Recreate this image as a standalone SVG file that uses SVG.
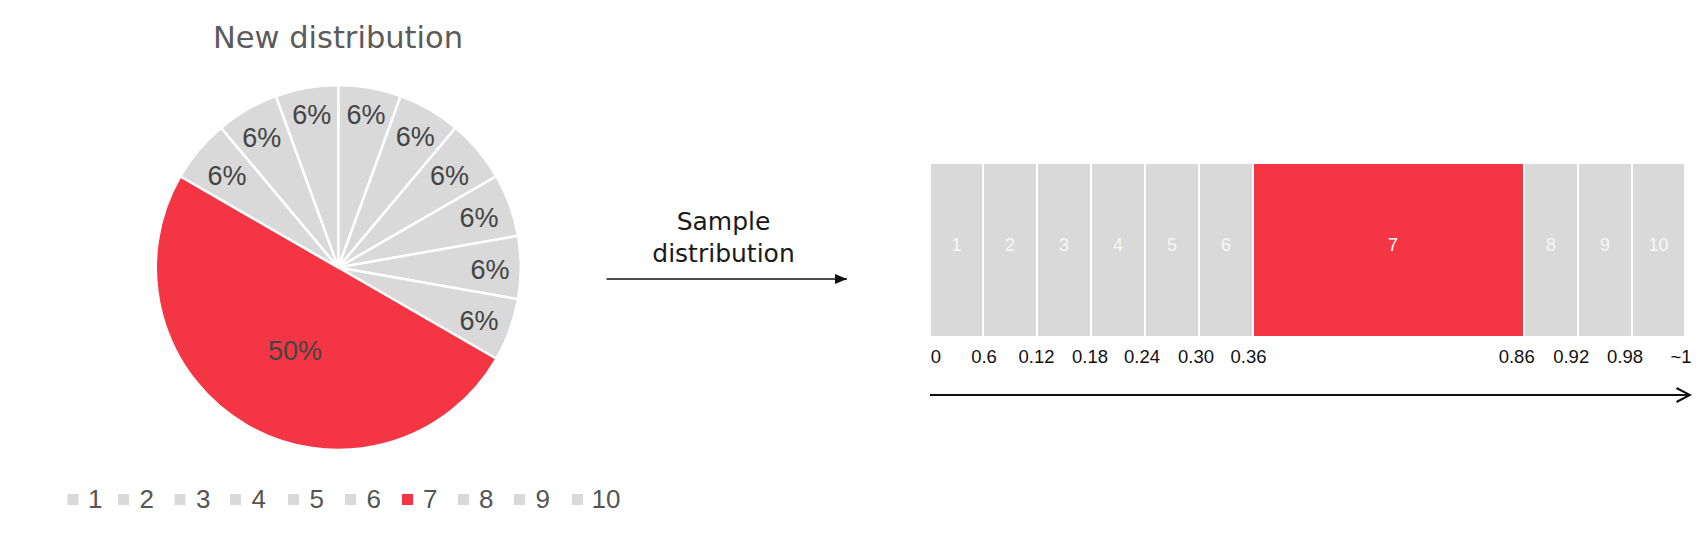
<svg xmlns="http://www.w3.org/2000/svg" width="1708" height="536" viewBox="0 0 1708 536">
<style>
.bg{fill:#ffffff}
.grey{fill:#d9d9d9}
.red{fill:#f43543}
.slice{stroke:#ffffff;stroke-width:2.5;stroke-linejoin:round}
.title{font-family:"DejaVu Sans","Liberation Sans",sans-serif;font-size:30.5px;fill:#5b5b5b;text-anchor:middle}
.word{font-family:"DejaVu Sans","Liberation Sans",sans-serif;font-size:25px;fill:#1a1a1a;text-anchor:middle}
.pct{font-family:"Liberation Sans",Arial,sans-serif;font-size:27px;fill:#444444;text-anchor:middle}
.leg{font-family:"Liberation Sans",Arial,sans-serif;font-size:26px;fill:#555555}
.bl{font-family:"Liberation Sans",Arial,sans-serif;font-size:18px;fill:#f7f7f7;text-anchor:middle}
.bl7{font-family:"Liberation Sans",Arial,sans-serif;font-size:18px;fill:#ffffff;text-anchor:middle}
.sc{font-family:"Liberation Sans",Arial,sans-serif;font-size:18.5px;fill:#111111;text-anchor:middle}
.line{stroke:#111111;fill:none}
</style>
<defs>
<marker id="tri" viewBox="0 0 12 10" refX="12" refY="5" markerWidth="12" markerHeight="10" markerUnits="userSpaceOnUse" orient="auto">
<path d="M0,0 L12,5 L0,10 Z" fill="#111111"/>
</marker>
<marker id="chev" viewBox="0 0 16 16" refX="14.5" refY="8" markerWidth="16" markerHeight="16" markerUnits="userSpaceOnUse" orient="auto">
<path d="M1,1 L14.5,8 L1,15" fill="none" stroke="#111111" stroke-width="2"/>
</marker>
</defs>
<rect class="bg" x="0" y="0" width="1708" height="536"/>

<text class="title" x="338" y="48">New distribution</text>

<g id="pie">
<path id="slice1" class="grey slice" d="M338.3,267.5 L338.3,85 A182.5,182.5 0 0 1 400.72,96 Z"/>
<path id="slice2" class="grey slice" d="M338.3,267.5 L400.72,96 A182.5,182.5 0 0 1 455.61,127.7 Z"/>
<path id="slice3" class="grey slice" d="M338.3,267.5 L455.61,127.7 A182.5,182.5 0 0 1 496.35,176.25 Z"/>
<path id="slice4" class="grey slice" d="M338.3,267.5 L496.35,176.25 A182.5,182.5 0 0 1 518.03,235.81 Z"/>
<path id="slice5" class="grey slice" d="M338.3,267.5 L518.03,235.81 A182.5,182.5 0 0 1 518.03,299.19 Z"/>
<path id="slice6" class="grey slice" d="M338.3,267.5 L518.03,299.19 A182.5,182.5 0 0 1 496.35,358.75 Z"/>
<path id="slice7" class="red slice" d="M338.3,267.5 L496.35,358.75 A182.5,182.5 0 0 1 180.25,176.25 Z"/>
<path id="slice8" class="grey slice" d="M338.3,267.5 L180.25,176.25 A182.5,182.5 0 0 1 220.99,127.7 Z"/>
<path id="slice9" class="grey slice" d="M338.3,267.5 L220.99,127.7 A182.5,182.5 0 0 1 275.88,96 Z"/>
<path id="slice10" class="grey slice" d="M338.3,267.5 L275.88,96 A182.5,182.5 0 0 1 338.3,85 Z"/>
<text class="pct" x="366" y="123.5">6%</text>
<text class="pct" x="415.3" y="146">6%</text>
<text class="pct" x="449.5" y="185">6%</text>
<text class="pct" x="479" y="226.7">6%</text>
<text class="pct" x="490" y="279">6%</text>
<text class="pct" x="479" y="330">6%</text>
<text class="pct" x="295" y="359.5">50%</text>
<text class="pct" x="227" y="185">6%</text>
<text class="pct" x="261.7" y="146.5">6%</text>
<text class="pct" x="311.7" y="123.5">6%</text>
</g>

<g id="legend">
<rect class="grey" x="67.5" y="494" width="11" height="11"/><text class="leg" x="88" y="507.5">1</text>
<rect class="grey" x="118" y="494" width="11" height="11"/><text class="leg" x="139.5" y="507.5">2</text>
<rect class="grey" x="174.5" y="494" width="11" height="11"/><text class="leg" x="196" y="507.5">3</text>
<rect class="grey" x="230" y="494" width="11" height="11"/><text class="leg" x="251.5" y="507.5">4</text>
<rect class="grey" x="288" y="494" width="11" height="11"/><text class="leg" x="309.5" y="507.5">5</text>
<rect class="grey" x="345" y="494" width="11" height="11"/><text class="leg" x="366.5" y="507.5">6</text>
<rect class="red" x="402" y="494" width="11" height="11"/><text class="leg" x="423" y="507.5">7</text>
<rect class="grey" x="458" y="494" width="11" height="11"/><text class="leg" x="479" y="507.5">8</text>
<rect class="grey" x="514" y="494" width="11" height="11"/><text class="leg" x="535.5" y="507.5">9</text>
<rect class="grey" x="572" y="494" width="11" height="11"/><text class="leg" x="591.5" y="507.5">10</text>
</g>

<g id="sample-label">
<text class="word" x="723.5" y="230">Sample</text>
<text class="word" x="723.5" y="261.5">distribution</text>
</g>

<g id="bar">
<g id="box1"><rect class="grey" x="931" y="164" width="51" height="172"/><text class="bl" x="956.5" y="251">1</text></g>
<g id="box2"><rect class="grey" x="984" y="164" width="52" height="172"/><text class="bl" x="1010" y="251">2</text></g>
<g id="box3"><rect class="grey" x="1038" y="164" width="52" height="172"/><text class="bl" x="1064" y="251">3</text></g>
<g id="box4"><rect class="grey" x="1092" y="164" width="52" height="172"/><text class="bl" x="1118" y="251">4</text></g>
<g id="box5"><rect class="grey" x="1146" y="164" width="52" height="172"/><text class="bl" x="1172" y="251">5</text></g>
<g id="box6"><rect class="grey" x="1200" y="164" width="52" height="172"/><text class="bl" x="1226" y="251">6</text></g>
<g id="box7"><rect class="red" x="1254" y="164" width="269" height="172"/><text class="bl7" x="1393" y="251">7</text></g>
<g id="box8"><rect class="grey" x="1525" y="164" width="52" height="172"/><text class="bl" x="1551" y="251">8</text></g>
<g id="box9"><rect class="grey" x="1579" y="164" width="52" height="172"/><text class="bl" x="1605" y="251">9</text></g>
<g id="box10"><rect class="grey" x="1633" y="164" width="51" height="172"/><text class="bl" x="1658.5" y="251">10</text></g>
</g>

<g id="scale">
<text class="sc" x="935.8" y="363.3">0</text>
<text class="sc" x="984" y="363.3">0.6</text>
<text class="sc" x="1036.5" y="363.3">0.12</text>
<text class="sc" x="1090" y="363.3">0.18</text>
<text class="sc" x="1142" y="363.3">0.24</text>
<text class="sc" x="1196" y="363.3">0.30</text>
<text class="sc" x="1248.5" y="363.3">0.36</text>
<text class="sc" x="1516.7" y="363.3">0.86</text>
<text class="sc" x="1571.2" y="363.3">0.92</text>
<text class="sc" x="1625" y="363.3">0.98</text>
<text class="sc" x="1681" y="363.3">~1</text>
</g>

<g id="connectors">
<line class="line" x1="606.5" y1="279" x2="847" y2="279" stroke-width="1.5" marker-end="url(#tri)"/>
<line class="line" x1="930" y1="395" x2="1690" y2="395" stroke-width="2" marker-end="url(#chev)"/>
</g>
</svg>
